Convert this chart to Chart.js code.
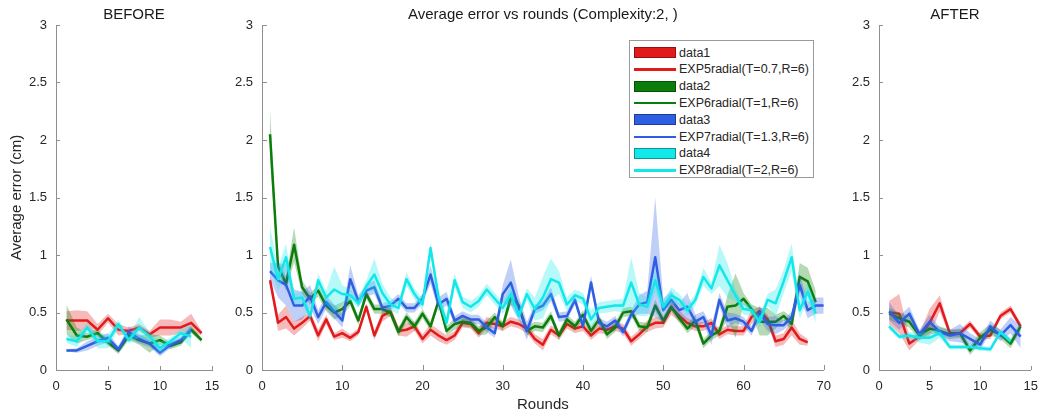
<!DOCTYPE html>
<html>
<head>
<meta charset="utf-8">
<script src="https://cdn.jsdelivr.net/npm/chart.js@4.4.1/dist/chart.umd.min.js"></script>
<style>
  body { margin: 0; background: #fff; width: 1047px; height: 419px; position: relative; overflow: hidden; font-family: "Liberation Sans", Arial, sans-serif; }
  .panel { position: absolute; top: 0; height: 419px; }
  #legend { position: absolute; left: 629px; top: 40px; width: 185px; height: 138px; border: 1px solid #9a9a9a; background: #fff; box-sizing: border-box; }
  #legend .row { position: absolute; left: 0; height: 16px; font-size: 12.5px; color: #262626; white-space: nowrap; }
  #legend .sw { position: absolute; left: 4px; width: 42px; box-sizing: border-box; }
  #legend .tx { position: absolute; left: 49px; top: 0; line-height: 16px; }
</style>
</head>
<body>
<div class="panel" style="left:0;width:230px"><canvas id="before" width="230" height="419"></canvas></div>
<div class="panel" style="left:230px;width:610px"><canvas id="main" width="610" height="419"></canvas></div>
<div class="panel" style="left:840px;width:207px"><canvas id="after" width="207" height="419"></canvas></div>
<div id="legend"></div>
<script>
// labels
const bandLabels = ['data1', 'data2', 'data3', 'data4'];
const lineLabels = ['EXP5radial(T=0.7,R=6)', 'EXP6radial(T=1,R=6)', 'EXP7radial(T=1.3,R=6)', 'EXP8radial(T=2,R=6)'];
const lineColors = ['#e31a1c', '#0b7d0b', '#2e5fe3', '#12e8ea'];
const bandColors = ['rgba(227,26,28,0.3)', 'rgba(11,125,11,0.3)', 'rgba(46,95,227,0.3)', 'rgba(18,232,234,0.3)'];

// BEFORE panel (rounds 1..n)
const beforeExp5 = [0.43,0.43,0.43,0.35,0.45,0.35,0.34,0.37,0.31,0.37,0.37,0.37,0.41,0.32];
const beforeExp6 = [0.44,0.30,0.29,0.32,0.24,0.17,0.30,0.26,0.23,0.26,0.21,0.24,0.35,0.26];
const beforeExp7 = [0.17,0.17,0.21,0.25,0.28,0.18,0.33,0.27,0.23,0.15,0.22,0.26,0.35];
const beforeExp8 = [0.27,0.25,0.37,0.25,0.25,0.40,0.26,0.37,0.29,0.19,0.25,0.32,0.29];
const beforeExp5Spread = [0.08,0.09,0.08,0.05,0.04,0.05,0.03,0.03,0.03,0.07,0.07,0.05,0.08,0.02];
const beforeExp6Spread = [0.13,0.07,0.03,0.03,0.03,0.03,0.04,0.04,0.08,0.04,0.03,0.03,0.03,0.02];
const beforeExp7Spread = [0.01,0.02,0.04,0.04,0.04,0.03,0.05,0.04,0.03,0.03,0.03,0.03,0.04];
const beforeExp8Spread = [0.03,0.05,0.04,0.06,0.06,0.04,0.03,0.09,0.04,0.05,0.03,0.04,0.10];

// main panel
const mainExp5 = [0.78,0.41,0.46,0.36,0.41,0.47,0.30,0.44,0.29,0.32, 0.28,0.33,0.55,0.30,0.47,0.51,0.34,0.35,0.38,0.27,
  0.35,0.30,0.26,0.30,0.41,0.40,0.32,0.41,0.40,0.38, 0.42,0.40,0.36,0.27,0.22,0.35,0.30,0.40,0.36,0.38,
  0.30,0.36,0.35,0.38,0.36,0.25,0.31,0.38,0.41,0.41, 0.54,0.47,0.41,0.38,0.38,0.41,0.31,0.35,0.34,0.34,
  0.46,0.51,0.44,0.25,0.27,0.37,0.27,0.24];
const mainExp6 = [2.05,0.90,0.75,1.09,0.72,0.62,0.69,0.56,0.50,0.53, 0.60,0.43,0.66,0.53,0.53,0.50,0.33,0.46,0.38,0.49,
  0.38,0.60,0.34,0.40,0.42,0.41,0.34,0.37,0.46,0.38, 0.63,0.56,0.34,0.38,0.37,0.47,0.30,0.44,0.38,0.48,
  0.34,0.44,0.31,0.37,0.50,0.51,0.38,0.37,0.56,0.43, 0.55,0.45,0.36,0.43,0.23,0.30,0.34,0.55,0.56,0.62,
  0.53,0.42,0.42,0.42,0.47,0.40,0.81,0.77,0.59];
const mainExp7 = [0.86,0.78,0.74,0.56,0.56,0.64,0.46,0.59,0.51,0.43, 0.79,0.60,0.69,0.72,0.54,0.56,0.62,0.54,0.54,0.62,
  0.83,0.57,0.62,0.43,0.47,0.44,0.44,0.37,0.32,0.66, 0.76,0.54,0.34,0.53,0.56,0.66,0.46,0.47,0.61,0.38,
  0.76,0.41,0.38,0.43,0.33,0.48,0.57,0.59,0.98,0.52, 0.61,0.52,0.55,0.42,0.46,0.30,0.61,0.43,0.45,0.42,
  0.34,0.50,0.40,0.39,0.39,0.46,0.74,0.52,0.56,0.56];
const mainExp8 = [1.07,0.79,0.98,0.62,0.63,0.47,0.78,0.63,0.70,0.66, 0.65,0.58,0.73,0.83,0.67,0.57,0.54,0.79,0.66,0.57,
  1.06,0.63,0.41,0.78,0.59,0.55,0.60,0.70,0.62,0.54, 0.66,0.47,0.66,0.53,0.63,0.79,0.76,0.57,0.65,0.62,
  0.44,0.54,0.55,0.56,0.56,0.76,0.57,0.55,0.78,0.55, 0.65,0.61,0.52,0.61,0.81,0.71,0.91,0.78,0.65,0.53,
  0.52,0.42,0.61,0.58,0.77,0.98,0.52,0.68,0.49];
const mainExp5Spread = [0.04,0.07,0.10,0.06,0.05,0.04,0.05,0.04,0.03,0.04, 0.03,0.03,0.03,0.04,0.05,0.04,0.04,0.06,0.04,0.04,
  0.05,0.05,0.04,0.04,0.04,0.04,0.04,0.05,0.04,0.04, 0.04,0.04,0.04,0.04,0.05,0.04,0.04,0.04,0.04,0.04,
  0.04,0.04,0.04,0.04,0.04,0.04,0.04,0.05,0.05,0.04, 0.06,0.05,0.04,0.04,0.04,0.04,0.04,0.04,0.04,0.04,
  0.06,0.04,0.04,0.05,0.05,0.07,0.05,0.03];
const mainExp6Spread = [0.22,0.05,0.06,0.15,0.06,0.05,0.05,0.05,0.06,0.06, 0.04,0.04,0.04,0.04,0.04,0.04,0.04,0.04,0.04,0.04,
  0.04,0.04,0.04,0.05,0.04,0.04,0.04,0.06,0.04,0.04, 0.06,0.04,0.04,0.04,0.04,0.04,0.04,0.04,0.04,0.04,
  0.04,0.04,0.04,0.04,0.04,0.04,0.04,0.04,0.05,0.04, 0.04,0.04,0.04,0.05,0.04,0.04,0.04,0.10,0.28,0.05,
  0.04,0.12,0.12,0.06,0.04,0.06,0.12,0.12,0.10];
const mainExp7Spread = [0.07,0.15,0.18,0.14,0.12,0.10,0.06,0.06,0.06,0.06, 0.12,0.05,0.05,0.06,0.04,0.04,0.04,0.04,0.04,0.04,
  0.08,0.06,0.06,0.04,0.04,0.04,0.04,0.04,0.04,0.08, 0.20,0.10,0.08,0.04,0.04,0.06,0.04,0.04,0.04,0.04,
  0.06,0.04,0.04,0.04,0.04,0.04,0.08,0.10,0.52,0.10, 0.08,0.06,0.12,0.06,0.05,0.08,0.06,0.07,0.04,0.04,
  0.04,0.06,0.06,0.08,0.04,0.05,0.10,0.07,0.07,0.07];
const mainExp8Spread = [0.18,0.10,0.12,0.05,0.05,0.05,0.06,0.06,0.20,0.08, 0.05,0.04,0.05,0.14,0.08,0.06,0.05,0.06,0.05,0.05,
  0.05,0.06,0.06,0.06,0.05,0.05,0.05,0.05,0.05,0.05, 0.08,0.05,0.05,0.10,0.18,0.18,0.10,0.06,0.05,0.05,
  0.08,0.05,0.05,0.05,0.06,0.22,0.10,0.08,0.10,0.05, 0.07,0.05,0.05,0.05,0.08,0.05,0.18,0.15,0.05,0.05,
  0.05,0.05,0.05,0.12,0.10,0.12,0.07,0.08,0.08];

// AFTER panel
const afterExp5 = [0.50,0.49,0.23,0.29,0.41,0.58,0.32,0.32,0.40,0.29,0.30,0.47,0.53,0.38];
const afterExp6 = [0.49,0.45,0.42,0.30,0.36,0.34,0.31,0.32,0.17,0.28,0.35,0.31,0.23,0.38];
const afterExp7 = [0.51,0.41,0.49,0.31,0.42,0.33,0.30,0.32,0.27,0.22,0.38,0.30,0.39,0.29];
const afterExp8 = [0.38,0.29,0.30,0.28,0.28,0.32,0.20,0.20,0.20,0.19,0.18,0.33,0.25];
const afterExp5Spread = [0.10,0.17,0.06,0.03,0.12,0.07,0.03,0.03,0.03,0.03,0.03,0.03,0.03,0.03];
const afterExp6Spread = [0.05,0.05,0.05,0.04,0.04,0.04,0.04,0.04,0.04,0.05,0.05,0.04,0.04,0.04];
const afterExp7Spread = [0.08,0.06,0.06,0.04,0.06,0.04,0.05,0.08,0.05,0.05,0.05,0.05,0.07,0.10];
const afterExp8Spread = [0.03,0.02,0.03,0.04,0.06,0.04,0.02,0.02,0.02,0.02,0.02,0.02,0.03];

const yTicks = [0, 0.5, 1, 1.5, 2, 2.5, 3];
const axisColor = '#8f8f8f';
const textColor = '#262626';

Chart.defaults.font.family = '"Liberation Sans", Arial, sans-serif';
Chart.defaults.color = textColor;

// MATLAB style ticks pointing into the axes
const inTicks = {
  id: 'inTicks',
  afterDraw(chart, args, opts) {
    const { ctx, chartArea: a, scales: { x, y } } = chart;
    const len = opts.len || 4;
    ctx.save();
    ctx.strokeStyle = axisColor;
    ctx.lineWidth = 1;
    ctx.beginPath();
    x.ticks.forEach(t => {
      const px = Math.round(x.getPixelForValue(t.value)) + 0.5;
      ctx.moveTo(px, a.bottom);
      ctx.lineTo(px, a.bottom - len);
    });
    y.ticks.forEach(t => {
      const py = Math.round(y.getPixelForValue(t.value)) + 0.5;
      ctx.moveTo(a.left, py);
      ctx.lineTo(a.left + len, py);
    });
    ctx.stroke();
    ctx.restore();
  }
};

function seriesSets(vals, spread, k) {
  const base = (3 - k) * 3 + 1;
  const pts = vals.map((v, i) => ({ x: i + 1, y: v }));
  const upper = vals.map((v, i) => ({ x: i + 1, y: v + spread[i] }));
  const lower = vals.map((v, i) => ({ x: i + 1, y: Math.max(0, v - spread[i]) }));
  return [
    { label: bandLabels[k] + ' hi', data: upper, fill: '+1', backgroundColor: bandColors[k], borderWidth: 0, pointRadius: 0, order: base + 2 },
    { label: bandLabels[k], data: lower, fill: false, borderWidth: 0, pointRadius: 0, order: base + 1 },
    { label: lineLabels[k], data: pts, fill: false, borderColor: lineColors[k], borderWidth: 2.5, pointRadius: 0, borderJoinStyle: 'round', order: base }
  ];
}

function makePanel(id, cfg) {
  const datasets = [];
  cfg.series.forEach((s, k) => datasets.push(...seriesSets(s[0], s[1], k)));
  new Chart(document.getElementById(id), {
    type: 'line',
    data: { datasets },
    plugins: [inTicks],
    options: {
      responsive: false,
      animation: false,
      devicePixelRatio: 1,
      layout: { padding: { left: 0, right: cfg.padRight, top: 0, bottom: 0 } },
      plugins: {
        legend: { display: false },
        tooltip: { enabled: false },
        inTicks: { len: cfg.tickLen },
        title: {
          display: true, text: cfg.title, fullSize: false, color: '#1a1a1a',
          font: { size: 15, weight: 'normal' }, padding: { top: 6, bottom: 1 }
        }
      },
      scales: {
        x: {
          type: 'linear', min: 0, max: cfg.xMax,
          grid: { drawOnChartArea: false, drawTicks: false },
          border: { display: true, color: axisColor, width: 1 },
          ticks: { stepSize: cfg.xStep, padding: 9, font: { size: 13 }, color: textColor, callback: v => String(v) },
          title: { display: !!cfg.xTitle, text: cfg.xTitle || '', font: { size: 15 }, color: textColor, padding: { top: 0, bottom: 5 } },
          afterFit: s => { s.height = 49; }
        },
        y: {
          type: 'linear', min: 0, max: 3,
          grid: { drawOnChartArea: false, drawTicks: false },
          border: { display: true, color: axisColor, width: 1 },
          afterBuildTicks: s => { s.ticks = yTicks.map(v => ({ value: v })); },
          ticks: { padding: 9, font: { size: 13 }, color: textColor, callback: v => String(v) },
          title: { display: !!cfg.yTitle, text: cfg.yTitle || '', font: { size: 15 }, color: textColor, padding: { top: 8, bottom: 0 } },
          afterFit: s => { s.width = cfg.yWidth; }
        }
      }
    }
  });
}

makePanel('before', {
  title: 'BEFORE', xMax: 15, xStep: 5, yWidth: 56, padRight: 18, tickLen: 4,
  yTitle: 'Average error (cm)',
  series: [[beforeExp5, beforeExp5Spread], [beforeExp6, beforeExp6Spread], [beforeExp7, beforeExp7Spread], [beforeExp8, beforeExp8Spread]]
});
makePanel('main', {
  title: 'Average error vs rounds (Complexity:2, )', xMax: 70, xStep: 10, yWidth: 32, padRight: 11, tickLen: 5,
  xTitle: 'Rounds',
  series: [[mainExp5, mainExp5Spread], [mainExp6, mainExp6Spread], [mainExp7, mainExp7Spread], [mainExp8, mainExp8Spread]]
});
makePanel('after', {
  title: 'AFTER', xMax: 15, xStep: 5, yWidth: 39, padRight: 12, tickLen: 4,
  series: [[afterExp5, afterExp5Spread], [afterExp6, afterExp6Spread], [afterExp7, afterExp7Spread], [afterExp8, afterExp8Spread]]
});

// legend box like MATLAB: patch swatch then line swatch per series
const legend = document.getElementById('legend');
let row = 0;
bandLabels.forEach((b, k) => {
  [[b, 'band'], [lineLabels[k], 'line']].forEach(([text, kind]) => {
    const r = document.createElement('div');
    r.className = 'row';
    r.style.top = (3.5 + 16.8 * row) + 'px';
    const sw = document.createElement('div');
    sw.className = 'sw';
    if (kind === 'band') {
      sw.style.top = '2.5px'; sw.style.height = '11px';
      sw.style.background = lineColors[k]; sw.style.border = '1px solid rgba(0,0,0,0.35)';
    } else {
      sw.style.top = '7px'; sw.style.height = '2.5px'; sw.style.background = lineColors[k];
    }
    const tx = document.createElement('div');
    tx.className = 'tx';
    tx.textContent = text;
    r.appendChild(sw); r.appendChild(tx);
    legend.appendChild(r);
    row++;
  });
});
</script>
</body>
</html>
